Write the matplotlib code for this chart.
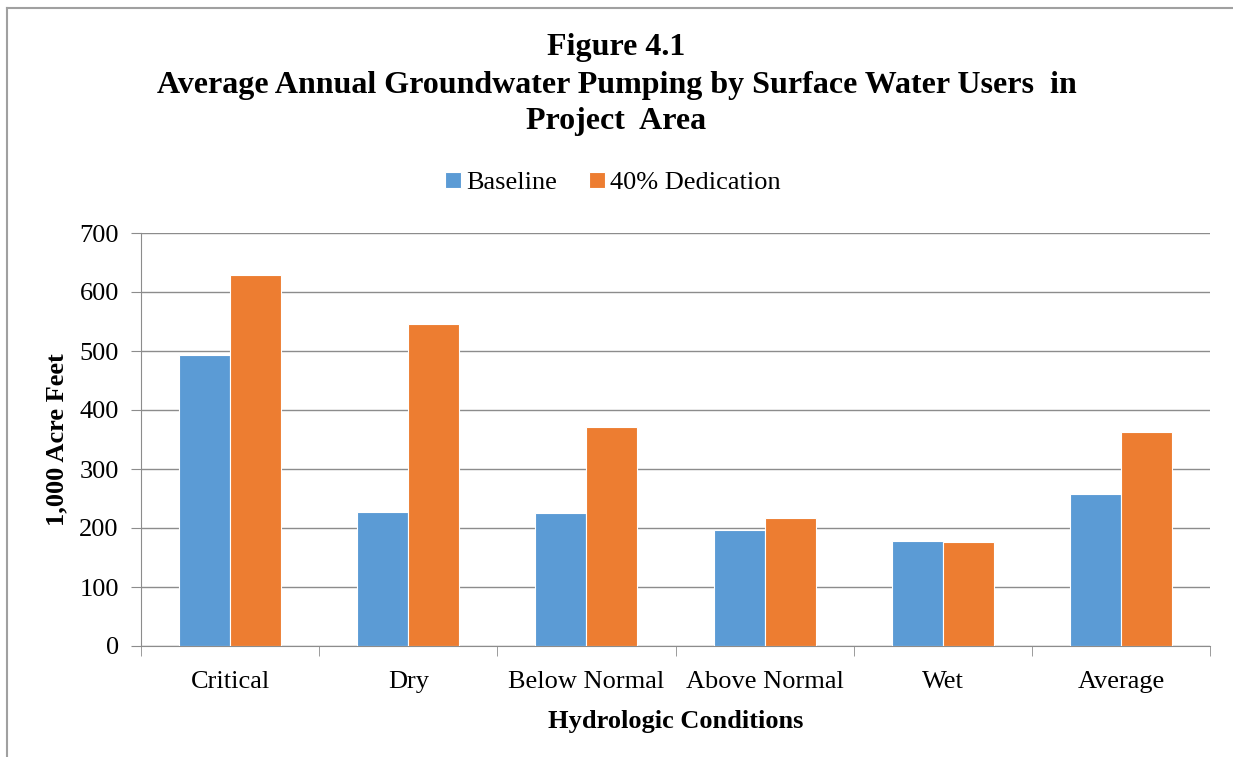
import numpy as np
import matplotlib.pyplot as plt
from matplotlib.lines import Line2D

categories = ["Critical", "Dry", "Below Normal", "Above Normal", "Wet", "Average"]
baseline = [493, 227, 225, 197, 178, 258]
dedication = [629, 546, 371, 217, 176, 363]
series_names = ["Baseline", "40% Dedication"]
yticks = [0, 100, 200, 300, 400, 500, 600, 700]

plt.rcParams["font.family"] = ["Liberation Serif", "DejaVu Serif"]

W, H = 1233, 757
fig = plt.figure(figsize=(W / 100, H / 100), dpi=100)
ax = fig.add_axes([141 / W, 1 - 646 / H, (1210 - 141) / W, (646 - 233) / H])

x = np.arange(len(categories))
bw = 0.286
ax.bar(x - bw / 2, baseline, bw, color="#5B9BD5", edgecolor="white", linewidth=0.8,
       label=series_names[0], zorder=3)
ax.bar(x + bw / 2, dedication, bw, color="#ED7D31", edgecolor="white", linewidth=0.8,
       label=series_names[1], zorder=3)

ax.set_xlim(-0.5, len(categories) - 0.5)
ax.set_ylim(0, 700)
ax.set_yticks(yticks)
ax.yaxis.grid(True, color="#8c8c8c", linewidth=1.0, zorder=0)
ax.set_axisbelow(True)

for s in ["top", "right"]:
    ax.spines[s].set_visible(False)
ax.spines["left"].set_color("#8c8c8c")
ax.spines["bottom"].set_color("#8c8c8c")

ax.set_xticks(x)
ax.set_xticklabels(categories, fontsize=19)
ax.tick_params(axis="x", length=0, pad=18)
ax.set_xticks(np.arange(len(categories) + 1) - 0.5, minor=True)
ax.tick_params(axis="x", which="minor", length=7, color="#8c8c8c")
ax.tick_params(axis="y", length=7, color="#8c8c8c", labelsize=19, pad=9)

ax.set_xlabel("Hydrologic Conditions", fontsize=19, fontweight="bold", labelpad=12)
ax.set_ylabel("1,000 Acre Feet", fontsize=19, fontweight="bold", labelpad=8)

fig.text(0.5, 1 - 47 / H, "Figure 4.1", ha="center", va="center",
         fontsize=23, fontweight="bold")
fig.text(0.5, 1 - 86 / H, "Average Annual Groundwater Pumping by Surface Water Users  in",
         ha="center", va="center", fontsize=23, fontweight="bold")
fig.text(0.5, 1 - 122 / H, "Project  Area", ha="center", va="center",
         fontsize=23, fontweight="bold")

ax.legend(loc="center", bbox_to_anchor=(613 / W, 1 - 183 / H),
          bbox_transform=fig.transFigure, ncol=2, frameon=False, fontsize=19,
          handlelength=0.6, handleheight=0.6, handletextpad=0.2, columnspacing=1.2)

# figure border (left and top edges visible in the reference)
fig.add_artist(Line2D([7 / W, 7 / W], [0, 1 - 8 / H], transform=fig.transFigure,
                      color="#a0a0a0", linewidth=1.5))
fig.add_artist(Line2D([7 / W, 1], [1 - 8 / H, 1 - 8 / H], transform=fig.transFigure,
                      color="#a0a0a0", linewidth=1.5))

fig.savefig("out.png", dpi=100)
